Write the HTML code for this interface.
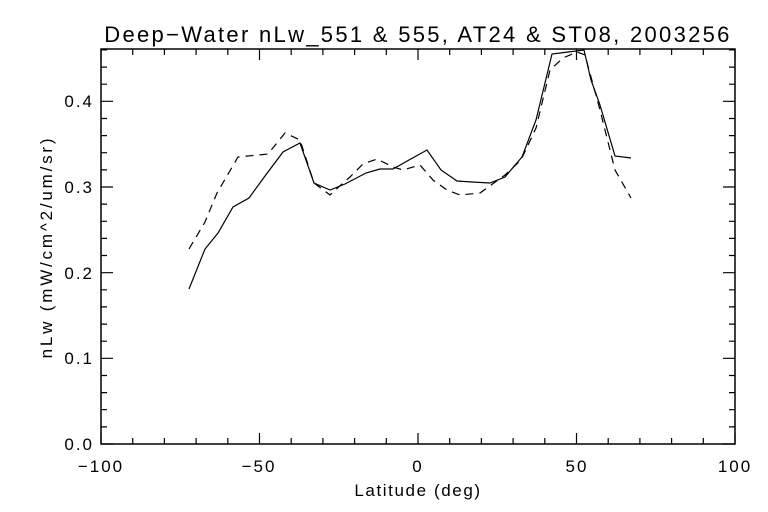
<!DOCTYPE html>
<html><head><style>body{margin:0;background:#fff}svg{display:block}text{font-family:"Liberation Sans",sans-serif;fill:#000}</style></head>
<body><svg width="768" height="512" viewBox="0 0 768 512">
<rect width="768" height="512" fill="#fff"/>
<text x="418" y="42" font-size="22" letter-spacing="2.3" text-anchor="middle">Deep−Water nLw_551 &amp; 555, AT24 &amp; ST08, 2003256</text>
<rect x="101" y="49" width="634" height="395" fill="none" stroke="#000" stroke-width="1.5"/>
<path fill="none" stroke="#000" stroke-width="1.2" d="
M101,444v-11M132.7,444v-6M164.4,444v-6M196.1,444v-6M227.8,444v-6M259.5,444v-11M291.2,444v-6M322.9,444v-6M354.6,444v-6M386.3,444v-6M418,444v-11M449.7,444v-6M481.4,444v-6M513.1,444v-6M544.8,444v-6M576.5,444v-11M608.2,444v-6M639.9,444v-6M671.6,444v-6M703.3,444v-6M735,444v-11
M101,49v11M132.7,49v6M164.4,49v6M196.1,49v6M227.8,49v6M259.5,49v11M291.2,49v6M322.9,49v6M354.6,49v6M386.3,49v6M418,49v11M449.7,49v6M481.4,49v6M513.1,49v6M544.8,49v6M576.5,49v11M608.2,49v6M639.9,49v6M671.6,49v6M703.3,49v6M735,49v11
M101,444h12M101,426.9h6M101,409.7h6M101,392.6h6M101,375.5h6M101,358.3h12M101,341.2h6M101,324.1h6M101,306.9h6M101,289.8h6M101,272.7h12M101,255.5h6M101,238.4h6M101,221.3h6M101,204.1h6M101,187h12M101,169.9h6M101,152.7h6M101,135.6h6M101,118.5h6M101,101.3h12M101,84.2h6M101,67.1h6M101,49.9h6
M735,444h-12M735,426.9h-6M735,409.7h-6M735,392.6h-6M735,375.5h-6M735,358.3h-12M735,341.2h-6M735,324.1h-6M735,306.9h-6M735,289.8h-6M735,272.7h-12M735,255.5h-6M735,238.4h-6M735,221.3h-6M735,204.1h-6M735,187h-12M735,169.9h-6M735,152.7h-6M735,135.6h-6M735,118.5h-6M735,101.3h-12M735,84.2h-6M735,67.1h-6M735,49.9h-6"/>
<g font-size="17" letter-spacing="2">
<text x="101" y="472" text-anchor="middle">−100</text>
<text x="259" y="472" text-anchor="middle">−50</text>
<text x="418" y="472" text-anchor="middle">0</text>
<text x="577" y="472" text-anchor="middle">50</text>
<text x="735" y="472" text-anchor="middle">100</text>
<text x="94" y="450" text-anchor="end">0.0</text>
<text x="94" y="364" text-anchor="end">0.1</text>
<text x="94" y="279" text-anchor="end">0.2</text>
<text x="94" y="193" text-anchor="end">0.3</text>
<text x="94" y="107" text-anchor="end">0.4</text>
</g>
<text x="418" y="496" font-size="17" letter-spacing="1.6" text-anchor="middle">Latitude (deg)</text>
<text transform="translate(52,247) rotate(-90)" font-size="17" letter-spacing="2.8" text-anchor="middle">nLw (mW/cm^2/um/sr)</text>
<polyline fill="none" stroke="#000" stroke-width="1.2" points="189,289 205,249 218,233 233,207 249,198 265,176 283,152 300,143 314,183 330,190 345,184 366,173 380,169 393,169 409,160 427,150 441,170 457,181 472,182 490,183 505,177 522,157 536,120 552,54 568,52 584,50 591,80 600,105 615,156 631,158"/>
<polyline fill="none" stroke="#000" stroke-width="1.2" stroke-dasharray="8,6" points="189,249 205,222 217,193 238,157 268,154 285,133 300,140 314,183 330,195 343,183 350,177 363,164 377,159 393,167 403,170 420,165 433,180 447,190 460,195 480,193 505,175 521,160 536,128 550,70 563,58 577,52 585,55 600,110 615,170 631,198"/>
</svg></body></html>
